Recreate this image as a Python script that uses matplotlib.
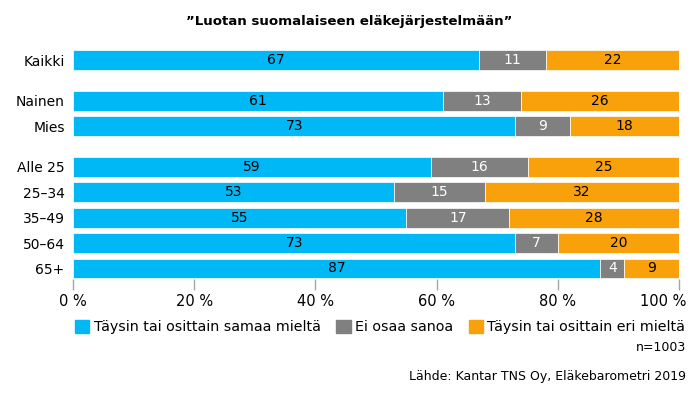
import numpy as np
import matplotlib

matplotlib.use("Agg")
import matplotlib.pyplot as plt
import matplotlib.transforms as mtransforms
from matplotlib.patches import Patch

# data
groups = ["Kaikki", "Nainen", "Mies", "Alle 25", "25–34", "35–49", "50–64", "65+"]
agree = [67, 61, 73, 59, 53, 55, 73, 87]
dont_know = [11, 13, 9, 16, 15, 17, 7, 4]
disagree = [22, 26, 18, 25, 32, 28, 20, 9]
series_names = ["Täysin tai osittain samaa mieltä", "Ei osaa sanoa",
                "Täysin tai osittain eri mieltä"]
xticks = [0, 20, 40, 60, 80, 100]

BLUE, GREY, ORANGE = "#00B8F5", "#808080", "#F9A10B"

plt.rcParams["font.family"] = ["Verdana", "DejaVu Sans"]

fig = plt.figure(figsize=(6.98, 3.95), dpi=100)
ax = fig.add_axes([0.1046, 0.2947, 0.8682, 0.5853])

# gaps between the group blocks
y = np.array([0, 1.6, 2.6, 4.2, 5.2, 6.2, 7.2, 8.2])
h = 0.78

left = np.zeros(len(groups))
for vals, col, tcol in [(agree, BLUE, "black"), (dont_know, GREY, "white"),
                        (disagree, ORANGE, "black")]:
    vals = np.array(vals, dtype=float)
    ax.barh(y, vals, left=left, height=h, color=col, edgecolor="white", linewidth=0.5)
    for yy, l, v in zip(y, left, vals):
        ax.text(l + v / 2, yy, f"{v:.0f}", ha="center", va="center",
                fontsize=10, color=tcol)
    left += vals

ax.set_xlim(0, 100)
ax.set_ylim(8.6, -0.5)
ax.set_yticks(y)
ax.set_yticklabels(groups, fontsize=10, color="black")
ax.set_xticks(xticks)
ax.set_xticklabels([f"{t} %" for t in xticks], fontsize=10.5)
ax.tick_params(axis="y", length=0, pad=6)
ax.tick_params(axis="x", length=8, color="#a6a6a6", width=1, pad=3)
for s in ax.spines.values():
    s.set_visible(False)
# keep the last tick label inside the figure, as in the original
last = ax.get_xticklabels()[-1]
last.set_transform(last.get_transform() +
                   mtransforms.ScaledTranslation(-16 / 100, 0, fig.dpi_scale_trans))

fig.text(0.5, 0.945, "”Luotan suomalaiseen eläkejärjestelmään”", ha="center",
         va="center", fontsize=9.6, fontweight="bold")

fig.legend(handles=[Patch(color=c, label=n) for c, n in zip([BLUE, GREY, ORANGE], series_names)],
           loc="center right", bbox_to_anchor=(0.99, 0.172), ncol=3, frameon=False,
           fontsize=10.3, handlelength=1.0, handleheight=1.0, handletextpad=0.3,
           columnspacing=1.1, borderaxespad=0)
fig.text(0.983, 0.121, "n=1003", ha="right", va="center", fontsize=9)
fig.text(0.983, 0.048, "Lähde: Kantar TNS Oy, Eläkebarometri 2019", ha="right",
         va="center", fontsize=9)

fig.savefig("out.png", dpi=100)
